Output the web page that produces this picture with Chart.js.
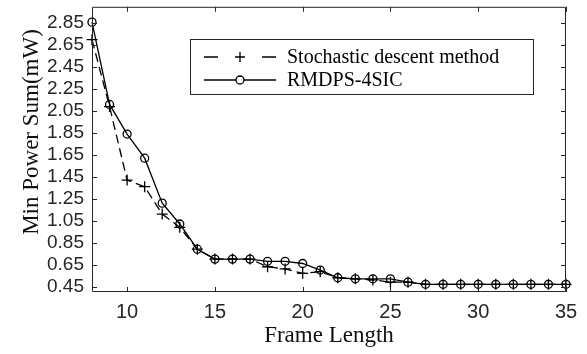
<!DOCTYPE html>
<html>
<head>
<meta charset="utf-8">
<script src="https://cdn.jsdelivr.net/npm/chart.js@4.4.1/dist/chart.umd.min.js"></script>
<style>
  html, body { margin: 0; padding: 0; background: #fff; }
  #wrap { width: 587px; height: 354px; }
</style>
</head>
<body>
<div id="wrap"><canvas id="powerChart"></canvas></div>
<script>
// Frame lengths on the x axis
let frameLengths = [8, 9, 10, 11, 12, 13, 14, 15, 16, 17, 18, 19, 20, 21, 22, 23, 24, 25, 26, 27, 28, 29, 30, 31, 32, 33, 34, 35];
// Min power sum (mW) per frame length
let stochasticPower = [2.70, 2.09, 1.42, 1.36, 1.11, 0.99, 0.79, 0.70, 0.70, 0.70, 0.63, 0.61, 0.57, 0.585, 0.53, 0.52, 0.51, 0.49, 0.49, 0.47, 0.47, 0.47, 0.47, 0.47, 0.47, 0.47, 0.47, 0.47];
let rmdpsPower = [2.86, 2.11, 1.84, 1.62, 1.21, 1.02, 0.79, 0.70, 0.70, 0.70, 0.68, 0.68, 0.66, 0.60, 0.53, 0.52, 0.52, 0.52, 0.49, 0.47, 0.47, 0.47, 0.47, 0.47, 0.47, 0.47, 0.47, 0.47];
// Tick positions
let xTicks = [10, 15, 20, 25, 30, 35];
let yTicks = [0.45, 0.65, 0.85, 1.05, 1.25, 1.45, 1.65, 1.85, 2.05, 2.25, 2.45, 2.65, 2.85];
// Texts
let seriesNames = ['Stochastic descent method', 'RMDPS-4SIC'];
let xTitle = 'Frame Length';
let yTitle = 'Min Power Sum(mW)';

let axisColor = '#262626';
let serif = '"Liberation Serif", "Times New Roman", serif';
let sans = '"Liberation Sans", Arial, sans-serif';

function toPoints(values) {
  return frameLengths.map((f, i) => ({ x: f, y: values[i] }));
}

// Matlab-like box with inward ticks on all four sides
let boxPlugin = {
  id: 'boxPlugin',
  afterDraw(chart) {
    let ctx = chart.ctx, a = chart.chartArea;
    let xs = chart.scales.x, ys = chart.scales.y;
    let len = 5;
    ctx.save();
    ctx.strokeStyle = axisColor;
    ctx.lineWidth = 1;
    ctx.beginPath();
    ctx.rect(a.left + 0.5, a.top + 0.5, a.right - a.left - 1, a.bottom - a.top - 1);
    xs.ticks.forEach(t => {
      let px = Math.round(xs.getPixelForValue(t.value)) + 0.5;
      ctx.moveTo(px, a.bottom); ctx.lineTo(px, a.bottom - len);
      ctx.moveTo(px, a.top); ctx.lineTo(px, a.top + len);
    });
    ys.ticks.forEach(t => {
      let py = Math.round(ys.getPixelForValue(t.value)) + 0.5;
      ctx.moveTo(a.left, py); ctx.lineTo(a.left + len, py);
      ctx.moveTo(a.right, py); ctx.lineTo(a.right - len, py);
    });
    ctx.stroke();

    // y axis title
    ctx.fillStyle = '#111';
    ctx.font = '23px ' + serif;
    ctx.textAlign = 'center';
    ctx.textBaseline = 'middle';
    ctx.translate(32, 132);
    ctx.rotate(-Math.PI / 2);
    ctx.fillText(yTitle, 0, 0);
    ctx.restore();

    drawLegend(chart);
  }
};

// Legend box in the upper middle of the plot
function drawLegend(chart) {
  let ctx = chart.ctx;
  let box = { left: 190, top: 39, right: 533, bottom: 94 };
  let rows = [57, 80];
  ctx.save();
  ctx.fillStyle = '#fff';
  ctx.fillRect(box.left, box.top, box.right - box.left, box.bottom - box.top);
  ctx.strokeStyle = axisColor;
  ctx.lineWidth = 1;
  ctx.strokeRect(box.left + 0.5, box.top + 0.5, box.right - box.left, box.bottom - box.top);

  ctx.strokeStyle = '#000';
  ctx.lineWidth = 1.3;
  // dashed sample with plus
  ctx.setLineDash([14, 44]);
  ctx.beginPath();
  ctx.moveTo(204, rows[0]); ctx.lineTo(276, rows[0]);
  ctx.stroke();
  ctx.setLineDash([]);
  ctx.beginPath();
  ctx.moveTo(235, rows[0]); ctx.lineTo(245, rows[0]);
  ctx.moveTo(240, rows[0] - 5); ctx.lineTo(240, rows[0] + 5);
  ctx.stroke();
  // solid sample with circle
  ctx.beginPath();
  ctx.moveTo(204, rows[1]); ctx.lineTo(276, rows[1]);
  ctx.stroke();
  ctx.beginPath();
  ctx.arc(240, rows[1], 4, 0, Math.PI * 2);
  ctx.fillStyle = '#fff';
  ctx.fill();
  ctx.stroke();

  ctx.fillStyle = '#000';
  ctx.font = '20px ' + serif;
  ctx.textAlign = 'left';
  ctx.textBaseline = 'middle';
  ctx.fillText(seriesNames[0], 287, rows[0] + 1);
  ctx.fillText(seriesNames[1], 287, rows[1] + 1);
  ctx.restore();
}

let config = {
  type: 'line',
  data: {
    datasets: [
      { label: seriesNames[0], data: toPoints(stochasticPower), borderColor: '#000', borderWidth: 1.3, borderDash: [9, 5], clip: false,
        pointStyle: 'cross', pointRadius: 5.5, pointBorderWidth: 1.3, pointBorderColor: '#000', pointBackgroundColor: 'rgba(0,0,0,0)', tension: 0 },
      { label: seriesNames[1], data: toPoints(rmdpsPower), borderColor: '#000', borderWidth: 1.3, clip: false,
        pointStyle: 'circle', pointRadius: 4, pointBorderWidth: 1.3, pointBorderColor: '#000', pointBackgroundColor: 'rgba(0,0,0,0)', tension: 0 }
    ]
  },
  options: {
    animation: false,
    responsive: true,
    maintainAspectRatio: false,
    layout: { padding: { top: 6, right: 21, left: 0, bottom: 0 } },
    plugins: { legend: { display: false }, tooltip: { enabled: false } },
    scales: {
      x: {
        type: 'linear', min: 8, max: 35,
        grid: { display: false, drawTicks: false },
        border: { display: false },
        afterBuildTicks: s => { s.ticks = xTicks.map(v => ({ value: v })); },
        afterFit: s => { s.height = 62; s.paddingLeft = 0; s.paddingRight = 0; },
        ticks: { color: axisColor, font: { family: sans, size: 20 }, padding: 8, maxRotation: 0, autoSkip: false, callback: v => String(v) },
        title: { display: true, text: xTitle, color: '#111', font: { family: serif, size: 23, lineHeight: 1.2 } }
      },
      y: {
        type: 'linear', min: 0.4, max: 3.0,
        grid: { display: false, drawTicks: false },
        border: { display: false },
        afterBuildTicks: s => { s.ticks = yTicks.map(v => ({ value: v })); },
        afterFit: s => { s.width = 92; s.paddingTop = 0; s.paddingBottom = 0; },
        ticks: { color: axisColor, font: { family: sans, size: 19 }, padding: 8, autoSkip: false, callback: v => v.toFixed(2) }
      }
    }
  },
  plugins: [boxPlugin]
};

let ctx = document.getElementById('powerChart').getContext('2d');
let powerChart = new Chart(ctx, config);
</script>
</body>
</html>
